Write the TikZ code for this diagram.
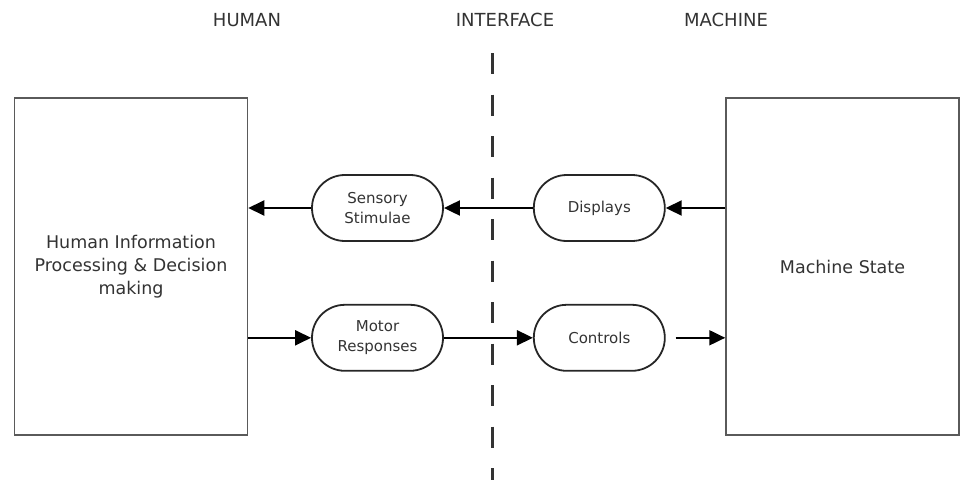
\documentclass[tikz,border=0pt]{standalone}
\usepackage{fontspec}
\setmainfont{DejaVu Sans}
\usetikzlibrary{%
    shapes,%
    arrows.meta,%
    positioning,%
    calc%
}
\definecolor{ink}{HTML}{333333}
\definecolor{edge}{HTML}{5A5A5A}
\tikzset{
    block/.style = {draw = edge, line width = 1.5pt, rectangle, minimum
    width = 233pt, minimum height = 337pt, inner sep = 0pt, text = ink,
    font = \fontsize{17.5}{23}\selectfont},
    pill/.style = {draw = black!85, line width = 1.8pt, rectangle, rounded
    corners = 32.9pt, minimum width = 131pt, minimum height = 66pt, inner
    sep = 0pt, text = ink, font = \fontsize{15}{19.5}\selectfont},
    head/.style = {text = ink, font = \fontsize{18}{22}\selectfont},
    arr/.style = {-{Triangle[length = 16pt, width = 15pt]}, line width = 2pt}
}
\begin{document}
\begin{tikzpicture}[x = 1pt, y = 1pt]
    \useasboundingbox (0,0) rectangle (960,-479);
    \node (humanhead) [head] at (247,-20) {HUMAN};
    \node (interhead) [head] at (505,-20) {INTERFACE};
    \node (machinehead) [head] at (726,-20) {MACHINE};
    \coordinate (divtop) at (492,-53);
    \coordinate (divbot) at (492,-490);
    \draw[ink, line width = 3pt, dash pattern = on 21pt off 20.5pt] (divtop) -- (divbot);
    \node[align=center] (human) [block] at (131,-266.5) {Human Information\\Processing \& Decision\\making};
    \node[align=center] (machine) [block] at (842.5,-266.5) {Machine State};
    \node[align=center] (sensory) [pill] at (377.5,-208) {Sensory\\Stimulae};
    \node[align=center, right = 89pt of sensory] (displays) [pill] {Displays};
    \node[align=center, below = 62pt of sensory] (motor) [pill] {Motor\\Responses};
    \node[align=center, right = 89pt of motor] (controls) [pill] {Controls};
    \draw[arr] (machine.west |- displays.east) -- (displays.east);
    \draw[arr] (displays.west) -- (sensory.east);
    \draw[arr] (sensory.west) -- (sensory.west -| human.east);
    \draw[arr] (human.east |- motor.west) -- (motor.west);
    \draw[arr] (motor.east) -- (controls.west);
    \coordinate[right = 10pt of controls.east] (ctrlgap);
    \draw[arr] (ctrlgap) -- (ctrlgap -| machine.west);
\end{tikzpicture}
\end{document}
